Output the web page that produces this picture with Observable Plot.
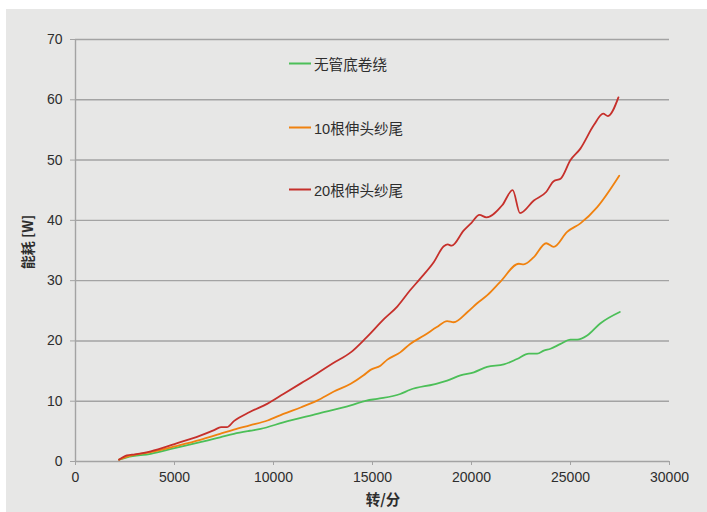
<!DOCTYPE html>
<html>
<head>
<meta charset="utf-8">
<script src="https://cdn.jsdelivr.net/npm/d3@7"></script>
<script src="https://cdn.jsdelivr.net/npm/@observablehq/plot@0.6"></script>
<style>
  html, body { margin: 0; padding: 0; background: #ffffff; }
  #wrap { position: relative; width: 707px; height: 512px; overflow: hidden; }
  #panel { position: absolute; left: 6px; top: 9px; right: 0; bottom: 0; background: #e7e7e6; }
  #chart { position: absolute; left: 0; top: 0; }
  #legend { position: absolute; left: 289px; top: 0; font-family: "Liberation Sans", "Noto Sans CJK SC", sans-serif; font-size: 14.6px; color: #2e2e2e; }
  .item { position: absolute; left: 0; display: flex; align-items: center; white-space: nowrap; transform: translateY(-50%); }
  .swatch { width: 22px; height: 2px; margin-right: 3px; }
</style>
</head>
<body>
<div id="wrap">
  <div id="panel"></div>
  <div id="chart"></div>
  <div id="legend"></div>
</div>
<script>
// Spindle speed (rpm) vs. power consumption (W) for three winding set-ups
const seriesNames = ["无管底卷绕", "10根伸头纱尾", "20根伸头纱尾"];
const seriesColors = ["#4cbf58", "#f0820f", "#c6302b"];

const greenRpm = [2200, 2600, 3800, 5000, 6300, 7300, 8000, 8800, 9350, 10500, 12200, 13900, 14700, 15240, 16400, 16900, 18100, 18770, 19440, 20120, 20790, 21630, 22300, 22900, 23320, 23650, 23990, 24500, 25000, 25340, 25840, 26500, 27490];
const greenW   = [0.3, 0.7, 1.27, 2.2, 3.2, 4.0, 4.6, 5.1, 5.4, 6.5, 7.9, 9.3, 10.1, 10.4, 11.2, 11.9, 12.8, 13.4, 14.3, 14.8, 15.7, 16.1, 17.0, 17.9, 17.9, 18.4, 18.7, 19.5, 20.2, 20.2, 20.9, 22.9, 24.8];

const orangeRpm = [2200, 2600, 3800, 5000, 6300, 7300, 8000, 8800, 9700, 10500, 11400, 12200, 13050, 13900, 14550, 14900, 15400, 15750, 16400, 16900, 17600, 18250, 18770, 19100, 19800, 20300, 20800, 21450, 22390, 22640, 23150, 23770, 24150, 24830, 25500, 26350, 27460];
const orangeW   = [0.3, 0.8, 1.55, 2.5, 3.6, 4.6, 5.3, 6.0, 6.8, 7.9, 9.0, 10.1, 11.6, 12.9, 14.3, 15.2, 15.9, 16.9, 18.1, 19.5, 20.9, 22.3, 23.3, 23.1, 24.8, 26.3, 27.6, 29.8, 32.8, 32.7, 33.9, 36.2, 35.6, 38.1, 39.5, 42.2, 47.4];

const redRpm = [2200, 2600, 3000, 3800, 5000, 6300, 7000, 7350, 7650, 8000, 8800, 9700, 10500, 11400, 12200, 13000, 13900, 14700, 15600, 16250, 16900, 17400, 18100, 18600, 18800, 19000, 19600, 20000, 20400, 20750, 21550, 22080, 22450, 23150, 23770, 24150, 24500, 25000, 25500, 26180, 26650, 26890, 27420];
const redW   = [0.3, 1.0, 1.2, 1.7, 2.9, 4.3, 5.2, 5.7, 5.7, 6.7, 8.2, 9.6, 11.2, 13.0, 14.6, 16.3, 18.1, 20.6, 23.7, 25.7, 28.4, 30.3, 33.1, 35.7, 36.0, 35.8, 38.3, 39.6, 40.9, 40.5, 42.5, 45.0, 41.2, 43.3, 44.7, 46.5, 46.9, 50.0, 51.9, 55.8, 57.7, 57.3, 60.4];

const xTicks = [0, 5000, 10000, 15000, 20000, 25000, 30000];
const yTicks = [0, 10, 20, 30, 40, 50, 60, 70];

const toRows = (name, rpm, w) => rpm.map((r, i) => ({series: name, rpm: r, power: w[i]}));
const rows = [
  ...toRows(seriesNames[0], greenRpm, greenW),
  ...toRows(seriesNames[1], orangeRpm, orangeW),
  ...toRows(seriesNames[2], redRpm, redW)
];

const axisColor = "#a3a3a3";
const textColor = "#2e2e2e";

const chart = Plot.plot({
  width: 707,
  height: 512,
  marginLeft: 75,
  marginRight: 38,
  marginTop: 39,
  marginBottom: 51,
  style: {background: "transparent", fontFamily: "'Liberation Sans', 'Noto Sans CJK SC', sans-serif", fontSize: "14px", color: textColor},
  x: {domain: [0, 30000]},
  y: {domain: [0, 70]},
  color: {domain: seriesNames, range: seriesColors},
  marks: [
    Plot.gridY(yTicks, {stroke: axisColor, strokeOpacity: 1, strokeWidth: 1.4}),
    Plot.ruleX([0], {stroke: axisColor, strokeWidth: 1.4}),
    Plot.axisY(yTicks, {tickSize: 5, tickPadding: 8, stroke: axisColor, strokeOpacity: 1, fill: textColor, fontSize: 14, label: null}),
    Plot.axisX(xTicks, {tickSize: 4, tickPadding: 7, stroke: axisColor, strokeOpacity: 1, fill: textColor, fontSize: 14, label: null, tickFormat: d => String(d)}),
    Plot.line(rows, {x: "rpm", y: "power", z: "series", stroke: "series", strokeWidth: 1.8, curve: "monotone-x"})
  ]
});

// Axis titles drawn inside the same SVG
const svg = d3.select(chart);
svg.append("text")
  .attr("transform", "translate(33,242) rotate(-90)")
  .attr("text-anchor", "middle")
  .attr("font-weight", "bold")
  .attr("font-size", 14)
  .attr("font-family", "'Noto Sans CJK SC', 'Liberation Sans', sans-serif")
  .attr("fill", textColor)
  .text("能耗 [W]");
svg.append("text")
  .attr("x", 383)
  .attr("y", 505)
  .attr("text-anchor", "middle")
  .attr("font-weight", "bold")
  .attr("font-size", 14.5)
  .attr("font-family", "'Noto Sans CJK SC', 'Liberation Sans', sans-serif")
  .attr("fill", textColor)
  .text("转/分");

document.getElementById("chart").appendChild(chart);

// In-plot legend
const legendTops = [63, 127, 189];
const legend = document.getElementById("legend");
seriesNames.forEach((name, i) => {
  const item = document.createElement("div");
  item.className = "item";
  item.style.top = legendTops[i] + "px";
  const sw = document.createElement("span");
  sw.className = "swatch";
  sw.style.background = seriesColors[i];
  const label = document.createElement("span");
  label.textContent = name;
  item.appendChild(sw);
  item.appendChild(label);
  legend.appendChild(item);
});
</script>
</body>
</html>
